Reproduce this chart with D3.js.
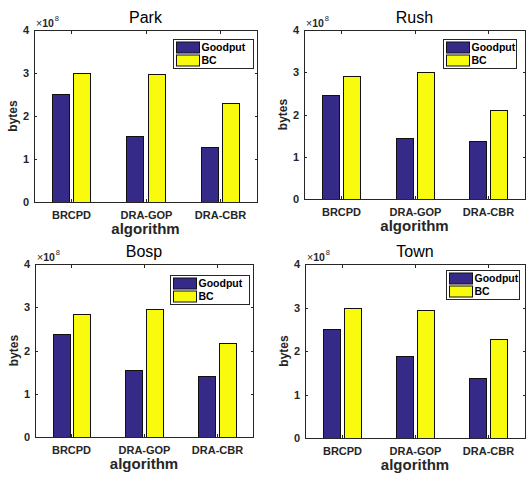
<!DOCTYPE html>
<html>
<head>
<meta charset="utf-8">
<script src="https://cdn.jsdelivr.net/npm/d3@7"></script>
<style>
  body { margin: 0; background: #fff; }
  svg { display: block; font-family: "Liberation Sans", Arial, sans-serif; }
</style>
</head>
<body>
<div id="chart"></div>
<script>
const width = 526, height = 477;

// data (bytes)
const scenes = ["Park", "Rush", "Bosp", "Town"];
const algorithms = ["BRCPD", "DRA-GOP", "DRA-CBR"];
const seriesNames = ["Goodput", "BC"];
const goodput = [
  [2.52e8, 1.53e8, 1.27e8],
  [2.46e8, 1.45e8, 1.38e8],
  [2.38e8, 1.55e8, 1.40e8],
  [2.50e8, 1.88e8, 1.39e8]
];
const bc = [
  [2.99e8, 2.98e8, 2.31e8],
  [2.91e8, 3.00e8, 2.11e8],
  [2.85e8, 2.95e8, 2.17e8],
  [2.99e8, 2.95e8, 2.27e8]
];
const yTicks = [0, 1e8, 2e8, 3e8, 4e8];

const colors = ["#352a87", "#f9fb0e"];
const ink = "#262626";

// axes boxes per subplot
const frames = [
  { left: 34, top: 30, right: 257, bottom: 202, legX: 173, legY: 39, legW: 80 },
  { left: 304, top: 30, right: 525, bottom: 199, legX: 443, legY: 39, legW: 73 },
  { left: 35, top: 264, right: 253, bottom: 437, legX: 170, legY: 275, legW: 79 },
  { left: 305, top: 264, right: 525, bottom: 438, legX: 446, legY: 270, legW: 73 }
];

const svg = d3.select("#chart")
  .append("svg")
    .attr("width", width)
    .attr("height", height);

// matlab grouped bar geometry: 2 bars per group
const groupWidth = Math.min(0.8, 2 / 3.5);
const barWidth = 0.8 * groupWidth / 2;
const offsets = [-groupWidth / 4, groupWidth / 4];

scenes.forEach((scene, k) => {
  const f = frames[k];
  const g = svg.append("g");

  const xScale = d3.scaleLinear().domain([0.5, 3.5]).range([f.left, f.right]);
  const yScale = d3.scaleLinear().domain([0, 4e8]).range([f.bottom, f.top]);

  const rows = [];
  algorithms.forEach((alg, i) => {
    [goodput[k][i], bc[k][i]].forEach((v, s) => {
      rows.push({ pos: i + 1 + offsets[s], value: v, s: s });
    });
  });

  g.selectAll("rect.bar")
    .data(rows)
    .join("rect")
      .attr("class", "bar")
      .attr("x", d => Math.round(xScale(d.pos - barWidth / 2)) + 0.5)
      .attr("width", d => Math.round(xScale(d.pos + barWidth / 2) - xScale(d.pos - barWidth / 2)))
      .attr("y", d => Math.round(yScale(d.value)) + 0.5)
      .attr("height", d => Math.round(yScale(0)) - Math.round(yScale(d.value)))
      .attr("fill", d => colors[d.s])
      .attr("stroke", "#111")
      .attr("stroke-width", 1);

  // box
  g.append("rect")
    .attr("x", f.left + 0.5)
    .attr("y", f.top + 0.5)
    .attr("width", f.right - f.left)
    .attr("height", f.bottom - f.top)
    .attr("fill", "none")
    .attr("stroke", ink)
    .attr("stroke-width", 1);

  // ticks, pointing inward on all four sides
  const tl = 3;
  yTicks.forEach(t => {
    const yy = Math.round(yScale(t)) + 0.5;
    g.append("line").attr("x1", f.left).attr("x2", f.left + tl).attr("y1", yy).attr("y2", yy).attr("stroke", ink);
    g.append("line").attr("x1", f.right - tl + 1).attr("x2", f.right + 1).attr("y1", yy).attr("y2", yy).attr("stroke", ink);
    g.append("text")
      .attr("x", f.left - 5)
      .attr("y", yy)
      .attr("dy", "0.36em")
      .attr("text-anchor", "end")
      .attr("fill", ink)
      .style("font-size", "11px")
      .style("font-weight", "bold")
      .text(t / 1e8);
  });

  algorithms.forEach((alg, i) => {
    const xx = Math.round(xScale(i + 1)) + 0.5;
    g.append("line").attr("x1", xx).attr("x2", xx).attr("y1", f.bottom).attr("y2", f.bottom - tl).attr("stroke", ink);
    g.append("line").attr("x1", xx).attr("x2", xx).attr("y1", f.top + 1).attr("y2", f.top + 1 + tl).attr("stroke", ink);
    g.append("text")
      .attr("x", xx)
      .attr("y", f.bottom + 16.5)
      .attr("text-anchor", "middle")
      .attr("fill", ink)
      .style("font-size", "11px")
      .style("font-weight", "bold")
      .text(alg);
  });

  // exponent label
  const expo = g.append("text")
    .attr("x", f.left + 2)
    .attr("y", f.top - 3.5)
    .attr("fill", ink)
    .style("font-size", "10.5px");
  expo.append("tspan").text("×");
  expo.append("tspan").style("font-weight", "bold").text("10");
  expo.append("tspan").attr("dx", 1).attr("dy", -5.5).style("font-size", "7.5px").text("8");

  // title and axis labels
  g.append("text")
    .attr("x", (f.left + f.right) / 2)
    .attr("y", f.top - 7)
    .attr("text-anchor", "middle")
    .attr("fill", "#000")
    .style("font-size", "16px")
    .text(scene);

  g.append("text")
    .attr("x", (f.left + f.right) / 2)
    .attr("y", f.bottom + 32)
    .attr("text-anchor", "middle")
    .attr("fill", ink)
    .style("font-size", "15px")
    .style("font-weight", "bold")
    .text("algorithm");

  g.append("text")
    .attr("transform", `translate(${f.left - 17}, ${(f.top + f.bottom) / 2}) rotate(-90)`)
    .attr("text-anchor", "middle")
    .attr("fill", ink)
    .style("font-size", "12px")
    .style("font-weight", "bold")
    .text("bytes");

  // legend
  const legend = g.append("g")
    .attr("transform", `translate(${f.legX}, ${f.legY})`);
  legend.append("rect")
    .attr("x", 0.5)
    .attr("y", 0.5)
    .attr("width", f.legW)
    .attr("height", 29)
    .attr("fill", "#fff")
    .attr("stroke", ink);
  seriesNames.forEach((name, s) => {
    const cy = s === 0 ? 8.5 : 21.5;
    legend.append("rect")
      .attr("x", 3.5)
      .attr("y", cy - 5.5)
      .attr("width", 23)
      .attr("height", 11)
      .attr("fill", colors[s])
      .attr("stroke", "#111");
    legend.append("text")
      .attr("x", 28.5)
      .attr("y", cy + 3.5)
      .attr("fill", "#000")
      .style("font-size", "10.5px")
      .style("font-weight", "bold")
      .text(name);
  });
});
</script>
</body>
</html>
